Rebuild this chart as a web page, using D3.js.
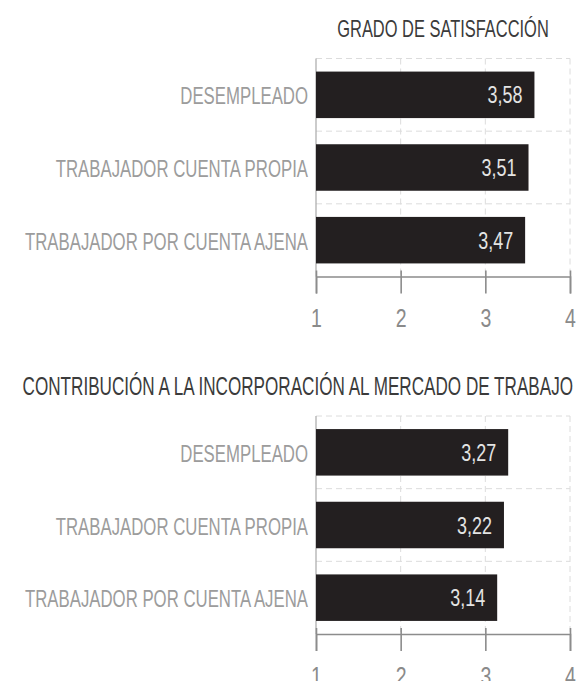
<!DOCTYPE html>
<html>
<head>
<meta charset="utf-8">
<script src="https://cdn.jsdelivr.net/npm/d3@7"></script>
<style>
  body { margin: 0; background: #fff; }
  text { font-family: "Liberation Sans", Arial, sans-serif; }
</style>
</head>
<body>
<div id="chart"></div>
<script>
// ── DATA ───────────────────────────────────────────────────────
const categories = ["DESEMPLEADO", "TRABAJADOR CUENTA PROPIA", "TRABAJADOR POR CUENTA AJENA"];
const satisfactionValues = [3.58, 3.51, 3.47];
const contributionValues = [3.27, 3.22, 3.14];
const xTicks = [1, 2, 3, 4];
const panelTitles = ["GRADO DE SATISFACCIÓN", "CONTRIBUCIÓN A LA INCORPORACIÓN AL MERCADO DE TRABAJO"];

// ── DIMENSIONS ─────────────────────────────────────────────────
const W = 578, H = 681;
const plotLeft = 316, plotRight = 570;
const plotH = 218;
const squeeze = 0.685;   // the original face is a condensed grotesque
const squeezeNum = 0.78; // its figures are a little wider

const svg = d3.select("#chart").append("svg")
  .attr("width", W).attr("height", H);

const x = d3.scaleLinear().domain([1, 4]).range([plotLeft, plotRight]);
const fmt = d3.formatLocale({ decimal: ",", thousands: ".", grouping: [3], currency: ["", "€"] }).format(".2f");

// squeezed text helper: a group scaled horizontally around the anchor point
function label(parent, px, py, str, anchor, k) {
  return parent.append("g")
    .attr("transform", `translate(${px},${py}) scale(${k},1)`)
    .append("text")
      .attr("text-anchor", anchor)
      .text(str);
}

function drawPanel(top, title, titleX, titleAnchor, titleSize, values) {
  const g = svg.append("g");
  const y = d3.scaleBand()
    .domain(categories)
    .range([top, top + plotH])
    .paddingInner(0.36)
    .paddingOuter(0.18);
  const bottom = top + plotH;

  // title
  label(g, titleX, top - 21.5, title, titleAnchor, squeeze)
    .attr("font-size", titleSize).attr("fill", "#3b3b3b");

  // dashed grid: band boundaries + vertical lines
  g.selectAll(".hgrid")
    .data(categories)
    .join("line")
      .attr("x1", plotLeft).attr("x2", plotRight)
      .attr("y1", (d, i) => top + i * y.step())
      .attr("y2", (d, i) => top + i * y.step())
      .attr("stroke", "#dcdcdc").attr("stroke-dasharray", "6,4");

  g.selectAll(".vgrid")
    .data(xTicks.slice(1))
    .join("line")
      .attr("x1", d => x(d)).attr("x2", d => x(d))
      .attr("y1", top).attr("y2", bottom)
      .attr("stroke", "#dcdcdc").attr("stroke-dasharray", "6,4");

  // left baseline
  g.append("line")
    .attr("x1", x(1)).attr("x2", x(1))
    .attr("y1", top).attr("y2", bottom)
    .attr("stroke", "#a8a8a8").attr("stroke-width", 1.2);

  // bars
  g.selectAll(".bar")
    .data(values)
    .join("rect")
      .attr("x", x(1))
      .attr("y", (d, i) => y(categories[i]))
      .attr("width", d => x(d) - x(1))
      .attr("height", y.bandwidth())
      .attr("fill", "#231f20");

  // value labels inside bars
  values.forEach((v, i) => {
    label(g, x(v) - 12, y(categories[i]) + y.bandwidth() / 2 + 8.5, fmt(v), "end", squeezeNum)
      .attr("font-size", 23).attr("fill", "#e4e4e4");
  });

  // category labels
  categories.forEach(c => {
    label(g, 308, y(c) + y.bandwidth() / 2 + 9.5, c, "end", squeeze)
      .attr("font-size", 24.5).attr("fill", "#9c9c9c");
  });

  // x axis
  const ax = g.append("g")
    .attr("transform", `translate(0,${bottom})`)
    .call(d3.axisBottom(x).tickValues(xTicks).tickSizeOuter(0).tickSize(17).tickFormat(d3.format("d")));
  ax.select(".domain").attr("stroke", "#8c8c8c").attr("stroke-width", 1.6);
  ax.selectAll(".tick line").attr("y1", -6).attr("stroke", "#8c8c8c").attr("stroke-width", 1.6);
  ax.selectAll(".tick text")
    .attr("y", 51).attr("dy", null)
    .attr("font-size", 25).attr("fill", "#8a8a8a")
    .attr("font-family", "\"Liberation Sans\", Arial, sans-serif")
    .attr("transform", `scale(${squeezeNum},1)`)
    .attr("x", 0);
}

drawPanel(58.5, panelTitles[0], (plotLeft + plotRight) / 2, "middle", 24, satisfactionValues);
drawPanel(416, panelTitles[1], 573, "end", 25, contributionValues);
</script>
</body>
</html>
